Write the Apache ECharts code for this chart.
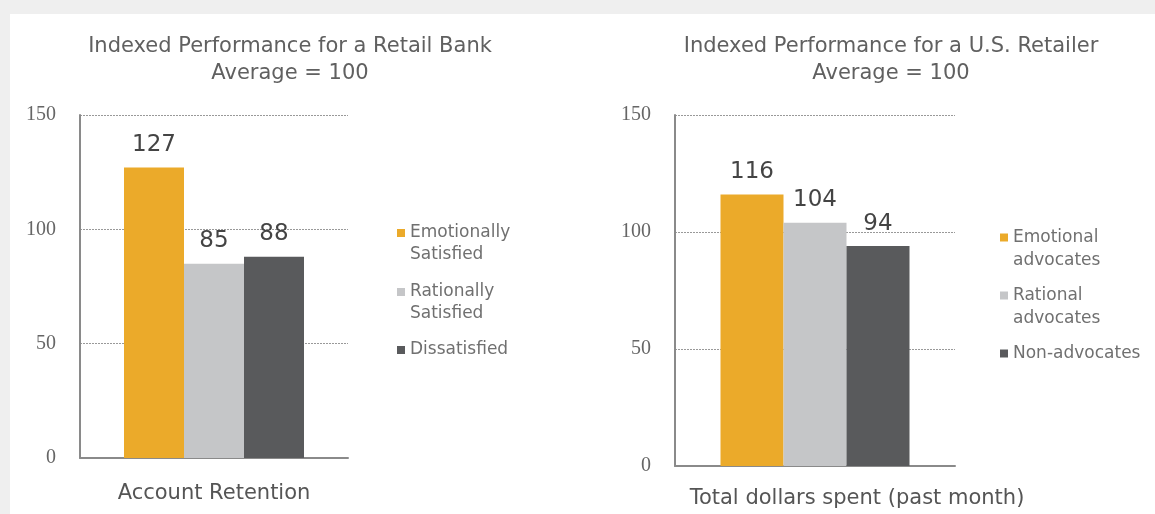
<!DOCTYPE html>
<html>
<head>
<meta charset="utf-8">
<script src="https://cdn.jsdelivr.net/npm/echarts@6/dist/echarts.min.js"></script>
<style>
  html, body { margin: 0; padding: 0; }
  body { width: 1155px; height: 514px; background: #efefef; position: relative; overflow: hidden; }
  #paper { position: absolute; left: 10px; top: 14px; right: 0; bottom: 0; background: #ffffff; }
  #chart { position: absolute; left: 0; top: 0; width: 1155px; height: 514px; }
</style>
</head>
<body>
<div id="paper"></div>
<div id="chart"></div>
<script>
// ---- data ----
const leftTitle = 'Indexed Performance for a Retail Bank\nAverage = 100';
const rightTitle = 'Indexed Performance for a U.S. Retailer\nAverage = 100';
const leftCategories = ['Account Retention'];
const rightCategories = ['Total dollars spent (past month)'];
const leftSeriesNames = ['Emotionally\nSatisfied', 'Rationally\nSatisfied', 'Dissatisfied'];
const leftValues = [127, 85, 88];
const rightSeriesNames = ['Emotional\nadvocates', 'Rational\nadvocates', 'Non-advocates'];
const rightValues = [116, 104, 94];
const yMin = 0, yMax = 150, yStep = 50;

// ---- styles ----
const colors = ['#EBAA2A', '#C5C6C8', '#595A5C'];
const sans = 'DejaVu Sans';
const textGrey = '#606060';

const chart = echarts.init(document.getElementById('chart'), null, { renderer: 'canvas' });

function yAxis(gridIndex) {
  return {
    type: 'value', gridIndex, min: yMin, max: yMax, interval: yStep,
    axisLine: { show: true, lineStyle: { color: '#8a8a8a', width: 2 } },
    axisTick: { show: false },
    axisLabel: { color: '#666', fontFamily: 'Liberation Serif', fontSize: 20, margin: 24 },
    splitLine: { show: true, lineStyle: { color: '#999', type: [2, 1], width: 1 } }
  };
}
function xAxis(gridIndex, cats, gap, pad) {
  return {
    type: 'category', gridIndex, data: cats,
    axisLine: { show: true, lineStyle: { color: '#8a8a8a', width: 2 } },
    axisTick: { show: false },
    axisLabel: { show: false },
    name: cats[0], nameLocation: 'middle', nameGap: gap,
    nameTextStyle: { color: '#555', fontFamily: sans, fontSize: 21, padding: pad }
  };
}
function barSeries(names, values, axisIdx, width) {
  return names.map((n, i) => ({
    type: 'bar', name: n, xAxisIndex: axisIdx, yAxisIndex: axisIdx,
    data: [values[i]], barWidth: width, barGap: '0%',
    itemStyle: { color: colors[i] },
    label: { show: true, position: 'top', distance: 11, color: '#444', fontFamily: sans, fontSize: 23 }
  }));
}
function legendItem(name, left, top, lh, twoLine) {
  return {
    data: [name], orient: 'vertical', left, top, padding: 0,
    icon: 'rect', itemWidth: 8, itemHeight: 8, selectedMode: false,
    formatter: twoLine ? (n => '\n' + n) : (n => n),
    textStyle: { color: '#707070', fontFamily: sans, fontSize: 17, lineHeight: lh }
  };
}

const option = {
  animation: false,
  title: [
    { text: leftTitle, left: 290, top: 33, textAlign: 'center', padding: 0,
      textStyle: { color: textGrey, fontFamily: sans, fontSize: 21, fontWeight: 'normal', lineHeight: 27 } },
    { text: rightTitle, left: 891, top: 33, textAlign: 'center', padding: 0,
      textStyle: { color: textGrey, fontFamily: sans, fontSize: 21, fontWeight: 'normal', lineHeight: 27 } }
  ],
  grid: [
    { left: 80, top: 115, width: 268, height: 343 },
    { left: 675, top: 115, width: 280, height: 351 }
  ],
  xAxis: [xAxis(0, leftCategories, 25, 0), xAxis(1, rightCategories, 22, [0, 0, 0, 84])],
  yAxis: [yAxis(0), yAxis(1)],
  legend: [
    legendItem(leftSeriesNames[0], 397, 200, 22, true),
    legendItem(leftSeriesNames[1], 397, 259, 22, true),
    legendItem(leftSeriesNames[2], 397, 339, 22, false),
    legendItem(rightSeriesNames[0], 1000, 203, 23, true),
    legendItem(rightSeriesNames[1], 1000, 261, 23, true),
    legendItem(rightSeriesNames[2], 1000, 342, 23, false)
  ],
  series: [].concat(barSeries(leftSeriesNames, leftValues, 0, 60), barSeries(rightSeriesNames, rightValues, 1, 63))
};
chart.setOption(option);
</script>
</body>
</html>
